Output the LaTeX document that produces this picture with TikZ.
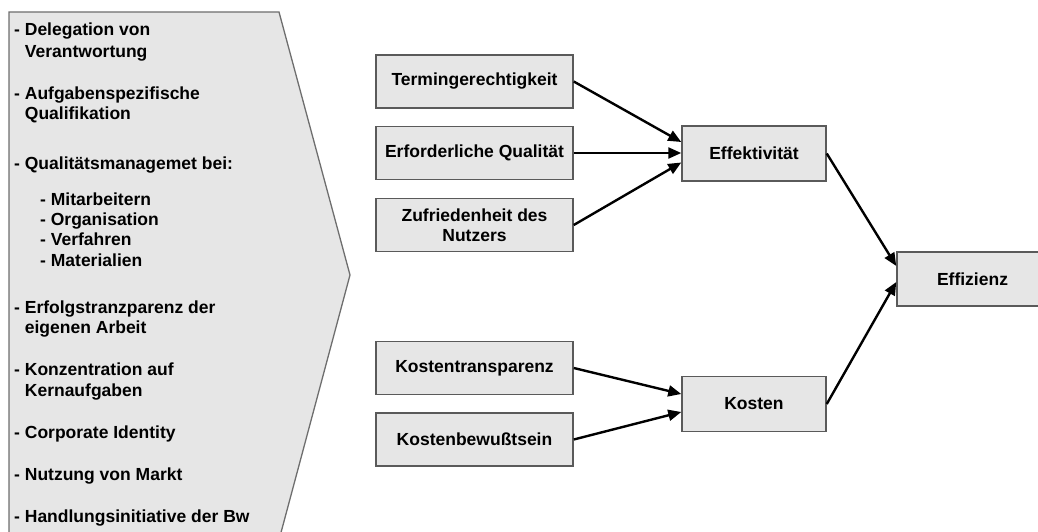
\documentclass[tikz,border=0pt]{standalone}
\usepackage{fontspec}
\setmainfont{Liberation Sans}
\usetikzlibrary{arrows.meta,calc}
\definecolor{boxfill}{HTML}{E6E6E6}
\definecolor{boxline}{HTML}{5A5A5A}
\definecolor{panelline}{HTML}{6E6E6E}
\tikzset{
  txt/.style={font=\fontsize{17.5}{20.5}\selectfont\bfseries},
  item/.style={txt, anchor=base west, inner sep=0pt},
  factor/.style={txt, draw=boxline, line width=1.5pt, fill=boxfill,
    minimum width=197pt, minimum height=53pt, align=center, inner sep=2pt},
  goal/.style={factor, minimum width=144pt, minimum height=55pt},
  link/.style={line width=2.4pt, -{Triangle[length=13pt,width=11pt]}},
}
\begin{document}
\begin{tikzpicture}[x=1pt,y=-1pt]
\useasboundingbox (0,0) rectangle (1038,532);

% arrow-shaped panel with the list of measures
\fill[boxfill] (9,12) -- (279,12) -- (350,275) -- (279,540) -- (9,540) -- cycle;
\draw[panelline, line width=1.3pt] (9,540) -- (9,12) -- (279,12) -- (350,275) -- (279,540);

\foreach \x/\y/\t [count=\i] in {
  14/36/{- Delegation von},
  24.7/58/{Verantwortung},
  14/100/{- Aufgabenspezifische},
  24.7/120/{Qualifikation},
  14/169/{- Qualitätsmanagemet bei:},
  40/205/{- Mitarbeitern},
  40/225/{- Organisation},
  40/245/{- Verfahren},
  40/266/{- Materialien},
  14/313/{- Erfolgstranzparenz der},
  24.7/333/{eigenen Arbeit},
  14/375/{- Konzentration auf},
  24.7/396/{Kernaufgaben},
  14/438/{- Corporate Identity},
  14/480/{- Nutzung von Markt},
  14/522/{- Handlungsinitiative der Bw}}
  \node[item] (l\i) at (\x,\y) {\t};

% factor boxes
\node[factor] (termin)  at (474.5,81.5) {Termingerechtigkeit};
\node[factor] (qual)    at (474.5,153)  {Erforderliche Qualität};
\node[factor] (zufr)    at (474.5,225)  {Zufriedenheit des\\Nutzers};
\node[factor] (ktrans)  at (474.5,368)  {Kostentransparenz};
\node[factor] (kbew)    at (474.5,439.5){Kostenbewußtsein};

\node[goal] (effekt) at (754,153.5) {Effektivität};
\node[goal] (kosten) at (754,404)   {Kosten};
\node[goal, minimum width=151pt, minimum height=54pt] (effiz) at (972.5,279) {Effizienz};

% connectors
\draw[link] (termin.east) -- ($(effekt.west)+(0,-11.5)$);
\draw[link] (qual.east) -- (qual.east -| effekt.west);
\draw[link] (zufr.east) -- ($(effekt.west)+(0,9)$);
\draw[link] (ktrans.east) -- ($(kosten.west)+(0,-10)$);
\draw[link] (kbew.east) -- ($(kosten.west)+(0,8)$);
\draw[link] (effekt.east) -- ($(effiz.west)+(0,-13)$);
\draw[link] (kosten.east) -- ($(effiz.west)+(0,3)$);
\end{tikzpicture}
\end{document}
